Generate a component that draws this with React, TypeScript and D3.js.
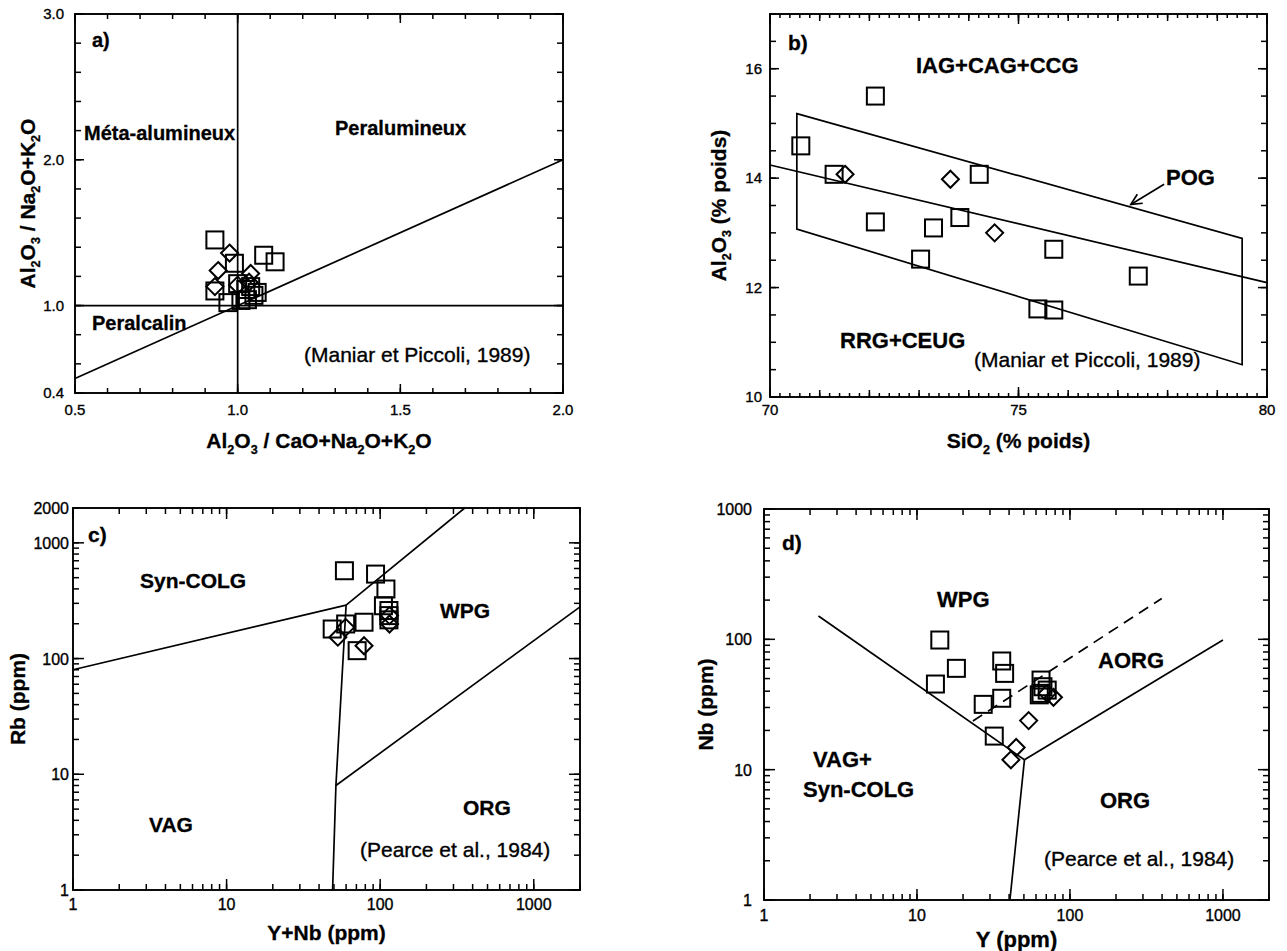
import React from 'react';
import * as d3 from 'd3';

type Pt = [number, number];
type Seg = [string, number];

// ---------- Panel a data ----------
const aSquares: Pt[] = [
  [0.93, 1.45], [0.99, 1.29], [1.08, 1.345], [1.115, 1.3], [0.93, 1.1], [0.97, 1.02],
  [1.0, 1.15], [1.025, 1.11], [1.05, 1.07], [1.03, 1.04], [1.06, 1.09], [1.01, 1.035], [1.04, 1.13],
];
const aDiamonds: Pt[] = [
  [0.975, 1.36], [0.94, 1.24], [0.93, 1.13], [1.04, 1.22], [1.0, 1.14], [1.035, 1.16],
];
const aLines: Pt[][] = [
  [[1.0, 0.4], [1.0, 3.0]],
  [[0.5, 1.0], [2.0, 1.0]],
  [[0.5, 0.5], [2.0, 2.0]],
];
const aXLabels = ['0.5', '1.0', '1.5', '2.0'];
const aXLabelVals = [0.5, 1.0, 1.5, 2.0];
const aYLabels = ['0.4', '1.0', '2.0', '3.0'];
const aYLabelVals = [0.4, 1.0, 2.0, 3.0];
const aXTitle: Seg[] = [['Al', 0], ['2', 1], ['O', 0], ['3', 1], [' / CaO+Na', 0], ['2', 1], ['O+K', 0], ['2', 1], ['O', 0]];
const aYTitle: Seg[] = [['Al', 0], ['2', 1], ['O', 0], ['3', 1], [' / Na', 0], ['2', 1], ['O+K', 0], ['2', 1], ['O', 0]];

// ---------- Panel b data ----------
const bSquares: Pt[] = [
  [72.12, 15.5], [70.62, 14.59], [71.29, 14.07], [74.21, 14.07], [72.12, 13.2], [73.29, 13.09],
  [73.82, 13.28], [73.03, 12.52], [75.71, 12.7], [75.39, 11.61], [75.71, 11.59], [77.41, 12.21],
];
const bDiamonds: Pt[] = [[71.51, 14.07], [73.63, 13.98], [74.52, 13.0]];
const bBox: Pt[] = [[70.54, 15.18], [79.5, 12.9], [79.5, 10.59], [70.54, 13.07]];
const bMid: Pt[] = [[70, 14.24], [80, 12.09]];
const bArrow: Pt[] = [[77.93, 13.89], [77.26, 13.52]];
const bXLabels = ['70', '75', '80'];
const bXLabelVals = [70, 75, 80];
const bYLabels = ['10', '12', '14', '16'];
const bYLabelVals = [10, 12, 14, 16];
const bXTitle: Seg[] = [['SiO', 0], ['2', 1], [' (% poids)', 0]];
const bYTitle: Seg[] = [['Al', 0], ['2', 1], ['O', 0], ['3', 1], [' (% poids)', 0]];

// ---------- Panel c data ----------
const cSquares: Pt[] = [
  [58.5, 574], [93.3, 537], [109, 399], [105, 286], [114, 260], [114, 235], [114, 216],
  [78.5, 206], [48.7, 180], [59.6, 199], [70.8, 117],
];
const cDiamonds: Pt[] = [[53, 153], [59.6, 186], [78.5, 129], [115, 199], [115, 235]];
const cLines: Pt[][] = [
  [[1, 80], [60, 290]],
  [[60, 290], [355, 2000]],
  [[60, 290], [51.5, 8], [49, 1]],
  [[51.5, 8], [2000, 280]],
];
const cXLabels = ['1', '10', '100', '1000'];
const cXLabelVals = [1, 10, 100, 1000];
const cYLabels = ['1', '10', '100', '1000', '2000'];
const cYLabelVals = [1, 10, 100, 1000, 2000];
const cXTitle: Seg[] = [['Y+Nb (ppm)', 0]];
const cYTitle: Seg[] = [['Rb (ppm)', 0]];

// ---------- Panel d data ----------
const dSquares: Pt[] = [
  [14.1, 98.8], [18.1, 59.9], [13.2, 45.4], [35.8, 68.2], [37.4, 54.8], [35.8, 35.3], [27.1, 31.7],
  [32, 18.1], [64.7, 48.7], [66.6, 43.3], [64.7, 38.5], [71, 40.8], [63, 37.5],
];
const dDiamonds: Pt[] = [[78, 35.9], [53.7, 23.8], [44.5, 14.8], [41.1, 11.9], [71, 38.5]];
const dLines: Pt[][] = [
  [[2.27, 151], [50.4, 11.9]],
  [[50.4, 11.9], [1000, 99]],
  [[50.4, 11.9], [40.5, 1]],
];
const dDashed: Pt[] = [[23.2, 23.6], [398, 206]];
const dXLabels = ['1', '10', '100', '1000'];
const dXLabelVals = [1, 10, 100, 1000];
const dYLabels = ['1', '10', '100', '1000'];
const dYLabelVals = [1, 10, 100, 1000];
const dXTitle: Seg[] = [['Y (ppm)', 0]];
const dYTitle: Seg[] = [['Nb (ppm)', 0]];

const FONT = "'Liberation Sans', Arial, Helvetica, sans-serif";
const INK = '#000';

type Scale = (v: number) => number;
interface TickGroup { values: number[]; len: number }

function Frame({ xs, ys, xGroups, yGroups }: { xs: any; ys: any; xGroups: TickGroup[]; yGroups: TickGroup[] }) {
  const [x0, x1] = xs.range();
  const [y0, y1] = ys.range();
  const out: JSX.Element[] = [];
  xGroups.forEach((g, gi) =>
    g.values.forEach((v, i) => {
      const X = xs(v);
      out.push(<line key={`xb${gi}-${i}`} x1={X} x2={X} y1={y0} y2={y0 - g.len} />);
      out.push(<line key={`xt${gi}-${i}`} x1={X} x2={X} y1={y1} y2={y1 + g.len} />);
    })
  );
  yGroups.forEach((g, gi) =>
    g.values.forEach((v, i) => {
      const Y = ys(v);
      out.push(<line key={`yl${gi}-${i}`} x1={x0} x2={x0 + g.len} y1={Y} y2={Y} />);
      out.push(<line key={`yr${gi}-${i}`} x1={x1} x2={x1 - g.len} y1={Y} y2={Y} />);
    })
  );
  return (
    <g stroke={INK} strokeWidth={1.5} fill="none">
      <rect x={x0} y={y1} width={x1 - x0} height={y0 - y1} strokeWidth={1.9} />
      {out}
    </g>
  );
}

function RichText({ segs, fs, x, y, anchor = 'middle', rotate = false, bold = true }: { segs: Seg[]; fs: number; x: number; y: number; anchor?: string; rotate?: boolean; bold?: boolean }) {
  const shift = fs * 0.28;
  const kids: JSX.Element[] = [];
  let cur = 0;
  segs.forEach(([t, sub], i) => {
    const target = sub ? shift : 0;
    const dy = target - cur;
    cur = target;
    kids.push(
      <tspan key={i} dy={dy} fontSize={sub ? fs * 0.6 : fs}>{t}</tspan>
    );
  });
  const tr = rotate ? `translate(${x},${y}) rotate(-90)` : `translate(${x},${y})`;
  return (
    <text transform={tr} x={0} y={rotate ? fs * 0.36 : 0} textAnchor={anchor as any} fontSize={fs} fontWeight={bold ? 'bold' : 'normal'} fontFamily={FONT} fill={INK} stroke={INK} strokeWidth={0.3}>
      {kids}
    </text>
  );
}

function Label({ x, y, t, fs, bold = true, anchor = 'start' }: { x: number; y: number; t: string; fs: number; bold?: boolean; anchor?: string }) {
  return (
    <text x={x} y={y} fontSize={fs} fontWeight={bold ? 'bold' : 'normal'} fontFamily={FONT} fill={INK} stroke={INK} strokeWidth={bold ? 0.3 : 0.35} textAnchor={anchor as any}>
      {t}
    </text>
  );
}

function Markers({ xs, ys, squares, diamonds, size = 17 }: { xs: Scale; ys: Scale; squares: Pt[]; diamonds: Pt[]; size?: number }) {
  const h = size / 2;
  const dh = size / 2;
  return (
    <g stroke={INK} strokeWidth={2} fill="none">
      {squares.map((p, i) => (
        <rect key={`s${i}`} x={xs(p[0]) - h} y={ys(p[1]) - h} width={size} height={size} />
      ))}
      {diamonds.map((p, i) => {
        const X = xs(p[0]);
        const Y = ys(p[1]);
        return <path key={`d${i}`} d={`M${X},${Y - dh}L${X + dh},${Y}L${X},${Y + dh}L${X - dh},${Y}Z`} />;
      })}
    </g>
  );
}

function Lines({ xs, ys, lines, dash }: { xs: Scale; ys: Scale; lines: Pt[][]; dash?: string }) {
  const gen = d3.line<Pt>().x((p) => xs(p[0])).y((p) => ys(p[1]));
  return (
    <g stroke={INK} strokeWidth={1.7} fill="none" strokeDasharray={dash}>
      {lines.map((l, i) => (
        <path key={i} d={gen(l) || ''} />
      ))}
    </g>
  );
}

function logMinor(lo: number, hi: number) {
  const s = d3.scaleLog().domain([lo, hi]);
  return s.ticks().filter((v) => v >= lo && v <= hi);
}

function PanelA() {
  const xs = d3.scaleLinear().domain([0.5, 2.0]).range([75, 563]);
  const ys = d3.scaleLinear().domain([0.4, 3.0]).range([393, 14]);
  const xMinor = d3.range(5, 21).map((v) => v / 10);
  const yMinor = d3.range(2, 16).map((v) => v / 5);
  return (
    <g>
      <Lines xs={xs} ys={ys} lines={aLines} />
      <Markers xs={xs} ys={ys} squares={aSquares} diamonds={aDiamonds} />
      <Frame xs={xs} ys={ys} xGroups={[{ values: xMinor, len: 5 }, { values: aXLabelVals, len: 9 }]} yGroups={[{ values: yMinor, len: 6 }, { values: aYLabelVals, len: 9 }]} />
      {aXLabels.map((t, i) => <Label key={t} x={xs(aXLabelVals[i])} y={415} t={t} fs={15} bold={false} anchor="middle" />)}
      {aYLabels.map((t, i) => <Label key={t} x={64} y={ys(aYLabelVals[i]) + 5} t={t} fs={15} bold={false} anchor="end" />)}
      <Label x={92} y={47} t="a)" fs={20} />
      <Label x={84} y={140} t="Méta-alumineux" fs={20} />
      <Label x={335} y={135} t="Peralumineux" fs={20} />
      <Label x={92} y={330} t="Peralcalin" fs={20} />
      <Label x={304} y={362} t="(Maniar et Piccoli, 1989)" fs={21} bold={false} />
      <RichText segs={aXTitle} fs={21} x={(75 + 563) / 2} y={448} />
      <RichText segs={aYTitle} fs={21} x={27} y={(14 + 393) / 2} rotate />
    </g>
  );
}

function PanelB() {
  const xs = d3.scaleLinear().domain([70, 80]).range([770, 1267]);
  const ys = d3.scaleLinear().domain([10, 17]).range([397, 14]);
  const xMinor = d3.range(350, 401).map((v) => v / 5);
  const xMed = d3.range(70, 81);
  const yMinor = d3.range(20, 35).map((v) => v / 2);
  const gen = d3.line<Pt>().x((p) => xs(p[0])).y((p) => ys(p[1]));
  const ax = xs(bArrow[0][0]), ay = ys(bArrow[0][1]);
  const bx = xs(bArrow[1][0]), by = ys(bArrow[1][1]);
  const ang = Math.atan2(ay - by, ax - bx);
  const hl = 12;
  const h1: Pt = [bx + hl * Math.cos(ang + 0.45), by + hl * Math.sin(ang + 0.45)];
  const h2: Pt = [bx + hl * Math.cos(ang - 0.45), by + hl * Math.sin(ang - 0.45)];
  return (
    <g>
      <g stroke={INK} strokeWidth={1.7} fill="none">
        <path d={(gen(bBox) || '') + 'Z'} />
        <path d={gen(bMid) || ''} />
        <line x1={ax} y1={ay} x2={bx} y2={by} />
        <path d={`M${h1[0]},${h1[1]}L${bx},${by}L${h2[0]},${h2[1]}`} />
      </g>
      <Markers xs={xs} ys={ys} squares={bSquares} diamonds={bDiamonds} />
      <Frame xs={xs} ys={ys} xGroups={[{ values: xMinor, len: 4 }, { values: xMed, len: 7 }, { values: bXLabelVals, len: 10 }]} yGroups={[{ values: yMinor, len: 6 }, { values: bYLabelVals, len: 9 }]} />
      {bXLabels.map((t, i) => <Label key={t} x={xs(bXLabelVals[i])} y={415} t={t} fs={15} bold={false} anchor="middle" />)}
      {bYLabels.map((t, i) => <Label key={t} x={762} y={ys(bYLabelVals[i]) + 5} t={t} fs={15} bold={false} anchor="end" />)}
      <Label x={788} y={50} t="b)" fs={21} />
      <Label x={916} y={73} t="IAG+CAG+CCG" fs={22} />
      <Label x={1166} y={185} t="POG" fs={22} />
      <Label x={840} y={348} t="RRG+CEUG" fs={22} />
      <Label x={974} y={367} t="(Maniar et Piccoli, 1989)" fs={21} bold={false} />
      <RichText segs={bXTitle} fs={21} x={(770 + 1267) / 2} y={448} />
      <RichText segs={bYTitle} fs={21} x={718} y={(14 + 397) / 2} rotate />
    </g>
  );
}

function PanelC() {
  const xs = d3.scaleLog().domain([1, 2000]).range([73, 580]);
  const ys = d3.scaleLog().domain([1, 2000]).range([890, 508]);
  return (
    <g>
      <Lines xs={xs} ys={ys} lines={cLines} />
      <Markers xs={xs} ys={ys} squares={cSquares} diamonds={cDiamonds} />
      <Frame xs={xs} ys={ys} xGroups={[{ values: logMinor(1, 2000), len: 6 }, { values: cXLabelVals, len: 11 }]} yGroups={[{ values: logMinor(1, 2000), len: 6 }, { values: [1, 10, 100, 1000], len: 11 }]} />
      {cXLabels.map((t, i) => <Label key={t} x={xs(cXLabelVals[i])} y={910} t={t} fs={16} bold={false} anchor="middle" />)}
      {cYLabels.map((t, i) => <Label key={t} x={69} y={ys(cYLabelVals[i]) + 6} t={t} fs={16} bold={false} anchor="end" />)}
      <Label x={88} y={542} t="c)" fs={21} />
      <Label x={140} y={588} t="Syn-COLG" fs={21} />
      <Label x={440} y={618} t="WPG" fs={21} />
      <Label x={463} y={815} t="ORG" fs={21} />
      <Label x={149} y={832} t="VAG" fs={21} />
      <Label x={360} y={857} t="(Pearce et al., 1984)" fs={21} bold={false} />
      <RichText segs={cXTitle} fs={21} x={(73 + 580) / 2} y={940} />
      <RichText segs={cYTitle} fs={21} x={17} y={(508 + 890) / 2} rotate />
    </g>
  );
}

function PanelD() {
  const xs = d3.scaleLog().domain([1, 2000]).range([764, 1269]);
  const ys = d3.scaleLog().domain([1, 1000]).range([900, 509]);
  return (
    <g>
      <Lines xs={xs} ys={ys} lines={dLines} />
      <Lines xs={xs} ys={ys} lines={[dDashed]} dash="11 7" />
      <Markers xs={xs} ys={ys} squares={dSquares} diamonds={dDiamonds} />
      <Frame xs={xs} ys={ys} xGroups={[{ values: logMinor(1, 2000), len: 6 }, { values: dXLabelVals, len: 11 }]} yGroups={[{ values: logMinor(1, 1000), len: 6 }, { values: dYLabelVals, len: 11 }]} />
      {dXLabels.map((t, i) => <Label key={t} x={xs(dXLabelVals[i])} y={921} t={t} fs={16} bold={false} anchor="middle" />)}
      {dYLabels.map((t, i) => <Label key={t} x={752} y={ys(dYLabelVals[i]) + 6} t={t} fs={16} bold={false} anchor="end" />)}
      <Label x={782} y={550} t="d)" fs={21} />
      <Label x={937} y={607} t="WPG" fs={22} />
      <Label x={1098} y={668} t="AORG" fs={22} />
      <Label x={813} y={767} t="VAG+" fs={22} />
      <Label x={803} y={797} t="Syn-COLG" fs={22} />
      <Label x={1100} y={808} t="ORG" fs={22} />
      <Label x={1044} y={866} t="(Pearce et al., 1984)" fs={21} bold={false} />
      <RichText segs={dXTitle} fs={22} x={(764 + 1269) / 2} y={947} />
      <RichText segs={dYTitle} fs={21} x={705} y={(509 + 900) / 2} rotate />
    </g>
  );
}

export default function App() {
  return (
    <svg width={1287} height={951} viewBox="0 0 1287 951" style={{ position: 'absolute', left: 0, top: 0, background: '#fff' }}>
      <rect x={0} y={0} width={1287} height={951} fill="#fff" />
      <PanelA />
      <PanelB />
      <PanelC />
      <PanelD />
    </svg>
  );
}
